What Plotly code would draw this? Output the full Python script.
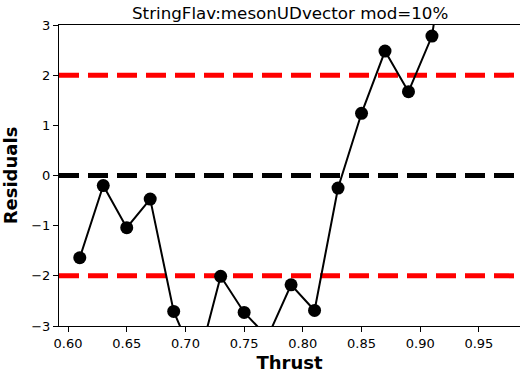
import plotly.graph_objects as go

# Residuals of the thrust distribution per bin
thrust = [0.61, 0.63, 0.65, 0.67, 0.69, 0.71, 0.73, 0.75, 0.77, 0.79,
          0.81, 0.83, 0.85, 0.87, 0.89, 0.91, 0.93]
residuals = [-1.64, -0.20, -1.04, -0.47, -2.71, -3.80, -2.01, -2.73, -3.22, -2.18,
             -2.69, -0.25, 1.24, 2.48, 1.67, 2.78, 5.85]

# Reference levels: +/-2 sigma band and zero
ref_levels = [2, 0, -2]
ref_colors = ["red", "black", "red"]

x_range = [0.5923, 0.985]
y_range = [-3, 3]
x_ticks = [0.60, 0.65, 0.70, 0.75, 0.80, 0.85, 0.90, 0.95]
y_ticks = [-3, -2, -1, 0, 1, 2, 3]

fig = go.Figure()

for level, color in zip(ref_levels, ref_colors):
    fig.add_trace(go.Scatter(
        x=x_range, y=[level, level], mode="lines",
        line=dict(color=color, width=5, dash="20px,9px"),
        hoverinfo="skip", showlegend=False,
    ))

fig.add_trace(go.Scatter(
    x=thrust, y=residuals, mode="lines+markers",
    line=dict(color="black", width=2),
    marker=dict(color="black", size=13),
    showlegend=False, cliponaxis=True,
))

font_family = "DejaVu Sans"
fig.update_layout(
    width=520, height=376,
    margin=dict(l=59, r=0, t=25, b=50),
    paper_bgcolor="white", plot_bgcolor="white",
    font=dict(family=font_family, color="black", size=13),
    title=dict(text="StringFlav:mesonUDvector mod=10%", x=0.558, xanchor="center",
               y=1 - 13 / 376, yanchor="middle",
               font=dict(family=font_family, size=16.7, color="black")),
    xaxis=dict(
        range=x_range, tickvals=x_ticks, ticktext=[f"{v:.2f}" for v in x_ticks],
        showgrid=False, zeroline=False,
        showline=True, linecolor="black", linewidth=1, mirror=True,
        ticks="outside", ticklen=5, tickcolor="black",
        title=dict(text="<b>Thrust</b>", font=dict(family=font_family, size=18), standoff=6),
    ),
    yaxis=dict(
        range=y_range, tickvals=y_ticks,
        showgrid=False, zeroline=False,
        showline=True, linecolor="black", linewidth=1,
        ticks="outside", ticklen=5, tickcolor="black",
        title=dict(text="<b>Residuals</b>", font=dict(family=font_family, size=18), standoff=8),
    ),
)

fig.write_html("out.html")
